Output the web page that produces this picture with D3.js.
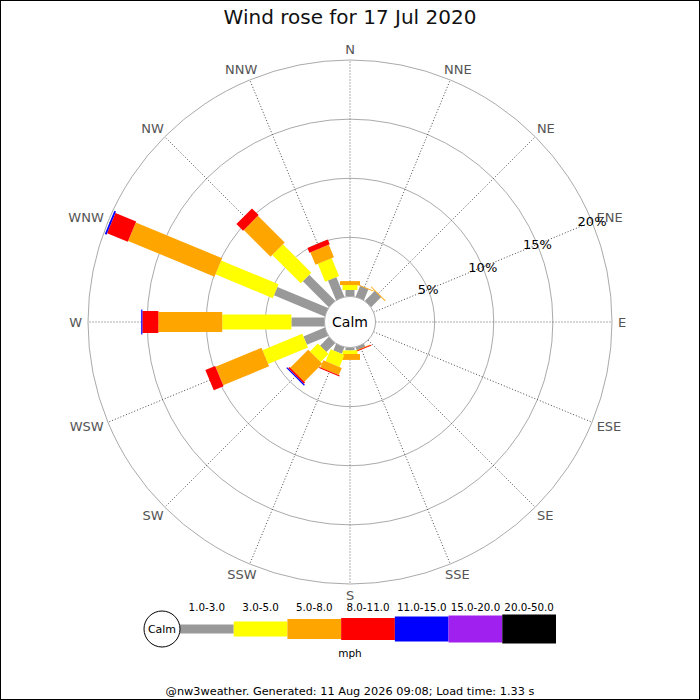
<!DOCTYPE html>
<html>
<head>
<meta charset="utf-8">
<title>Wind rose</title>
<script src="https://cdn.jsdelivr.net/npm/d3@7"></script>
<style>
  body { margin: 0; background: #fff; }
  svg { display: block; font-family: "DejaVu Sans", sans-serif; }
</style>
</head>
<body>
<div id="chart"></div>
<script>
// wind rose data: % of time per direction and speed band
var directions = ["N","NNE","NE","ENE","E","ESE","SE","SSE","S","SSW","SW","WSW","W","WNW","NW","NNW"];
var bands = ["1.0-3.0","3.0-5.0","5.0-8.0","8.0-11.0","11.0-15.0","15.0-20.0","20.0-50.0"];
var bandColors = ["#999999","#ffff00","#ffa500","#ff0000","#0000ff","#a020f0","#000000"];
var pctTicks = [5, 10, 15, 20];

// one row per direction, one value per band
var freq = [
  [0.55, 0.42, 0.33, 0, 0, 0, 0],   // N
  [1.0, 0, 0.05, 0, 0, 0, 0],       // NNE
  [1.2, 0, 0.05, 0, 0, 0, 0],       // NE
  [0, 0, 0, 0, 0, 0, 0],            // ENE
  [0, 0, 0, 0, 0, 0, 0],            // E
  [0, 0, 0, 0, 0, 0, 0],            // ESE
  [0, 0, 0, 0, 0, 0, 0],            // SE
  [0.3, 0, 0.03, 0.04, 0, 0, 0],    // SSE
  [0.25, 0.3, 0.5, 0, 0, 0, 0],     // S
  [0.6, 1.1, 0.65, 0.1, 0, 0, 0],   // SSW
  [1.05, 0.95, 2.15, 0.15, 0.1, 0, 0], // SW
  [1.95, 3.65, 4.2, 0.9, 0, 0, 0],  // WSW
  [2.8, 5.85, 5.4, 1.35, 0.1, 0, 0],// W
  [4.65, 5.25, 7.9, 1.9, 0.15, 0, 0], // WNW
  [3.1, 3.4, 3.2, 0.8, 0, 0, 0],    // NW
  [1.8, 1.63, 1.14, 0.43, 0, 0, 0]  // NNW
];

var W = 700, H = 700, cx = 350, cy = 322;
var calmR = 25.5, outerR = 262, labelR = 268;
var barW = [9, 15, 20, 22, 25, 27, 29];

var r = d3.scaleLinear().domain([0, 20]).range([calmR, outerR]);
var ang = d3.scaleLinear().domain([0, directions.length]).range([0, 360]);
function rad(i) { return ang(i) * Math.PI / 180; }

var svg = d3.select("#chart").append("svg")
    .attr("width", W).attr("height", H);

svg.append("rect")
    .attr("x", 0.5).attr("y", 0.5)
    .attr("width", W - 1).attr("height", H - 1)
    .attr("fill", "#fff").attr("stroke", "#000");

svg.append("text")
    .attr("x", cx).attr("y", 24)
    .attr("text-anchor", "middle")
    .attr("font-size", 20)
    .attr("fill", "#111")
    .text("Wind rose for 17 Jul 2020");

var g = svg.append("g").attr("transform", "translate(" + cx + "," + cy + ")");

// rings
g.selectAll("circle.ring").data(pctTicks).enter().append("circle")
    .attr("class", "ring")
    .attr("r", function(d) { return r(d); })
    .attr("fill", "none")
    .attr("stroke", "#aaa")
    .attr("stroke-width", 1);

// spokes
g.selectAll("line.spoke").data(directions).enter().append("line")
    .attr("class", "spoke")
    .attr("x1", 0).attr("y1", -calmR)
    .attr("x2", 0).attr("y2", -outerR)
    .attr("transform", function(d, i) { return "rotate(" + ang(i) + ")"; })
    .attr("stroke", "#333")
    .attr("stroke-width", 0.8)
    .attr("stroke-dasharray", "1,2");

// direction labels, pushed out by half their size
g.selectAll("text.dir").data(directions).enter().append("text")
    .attr("class", "dir")
    .attr("text-anchor", "middle")
    .attr("dominant-baseline", "central")
    .attr("font-size", 13)
    .attr("fill", "#555")
    .text(function(d) { return d; })
    .each(function(d, i) {
      var w = this.getComputedTextLength(), s = Math.sin(rad(i)), c = Math.cos(rad(i));
      d3.select(this)
        .attr("x", s * labelR + s * w / 2)
        .attr("y", -c * labelR - c * 5);
    });

// bars: one rect per direction per band, stacked outward
directions.forEach(function(dir, i) {
  var acc = 0;
  freq[i].forEach(function(v, b) {
    if (v <= 0) return;
    var r0 = r(acc), r1 = r(acc + v);
    acc += v;
    g.append("rect")
      .attr("x", -barW[b] / 2)
      .attr("y", -r1)
      .attr("width", barW[b])
      .attr("height", Math.max(r1 - r0, 0.8))
      .attr("fill", bandColors[b])
      .attr("transform", "rotate(" + ang(i) + ")");
  });
});

// tick labels along ENE
var tickAng = rad(3);
g.selectAll("text.tick").data(pctTicks).enter().append("text")
    .attr("class", "tick")
    .attr("x", function(d) { return Math.sin(tickAng) * r(d); })
    .attr("y", function(d) { return -Math.cos(tickAng) * r(d); })
    .attr("text-anchor", "middle")
    .attr("dominant-baseline", "central")
    .attr("font-size", 13)
    .attr("fill", "#000")
    .text(function(d) { return d + "%"; });

// calm circle
g.append("circle").attr("r", calmR)
    .attr("fill", "#fff").attr("stroke", "#aaa");
g.append("text")
    .attr("text-anchor", "middle").attr("dominant-baseline", "central")
    .attr("font-size", 14).attr("fill", "#000")
    .text("Calm");

// legend
var lx = d3.scaleBand().domain(bands).range([180, 556]);
var ly = 629;
var leg = svg.append("g");
leg.selectAll("rect").data(bands).enter().append("rect")
    .attr("x", function(d) { return lx(d); })
    .attr("y", function(d, i) { return ly - barW[i] / 2; })
    .attr("width", lx.bandwidth())
    .attr("height", function(d, i) { return barW[i]; })
    .attr("fill", function(d, i) { return bandColors[i]; });
leg.selectAll("text.band").data(bands).enter().append("text")
    .attr("class", "band")
    .attr("x", function(d) { return lx(d) + lx.bandwidth() / 2; })
    .attr("y", 611)
    .attr("text-anchor", "middle")
    .attr("font-size", 10.3)
    .text(function(d) { return d; });
leg.append("circle").attr("cx", 162).attr("cy", ly).attr("r", 18)
    .attr("fill", "#fff").attr("stroke", "#000");
leg.append("text").attr("x", 162).attr("y", ly)
    .attr("text-anchor", "middle").attr("dominant-baseline", "central")
    .attr("font-size", 11).text("Calm");
leg.append("text").attr("x", 350).attr("y", 657)
    .attr("text-anchor", "middle").attr("font-size", 10.5).text("mph");

svg.append("text")
    .attr("x", 350).attr("y", 695)
    .attr("text-anchor", "middle")
    .attr("font-size", 11.3)
    .text("@nw3weather. Generated: 11 Aug 2026 09:08; Load time: 1.33 s");
</script>
</body>
</html>
